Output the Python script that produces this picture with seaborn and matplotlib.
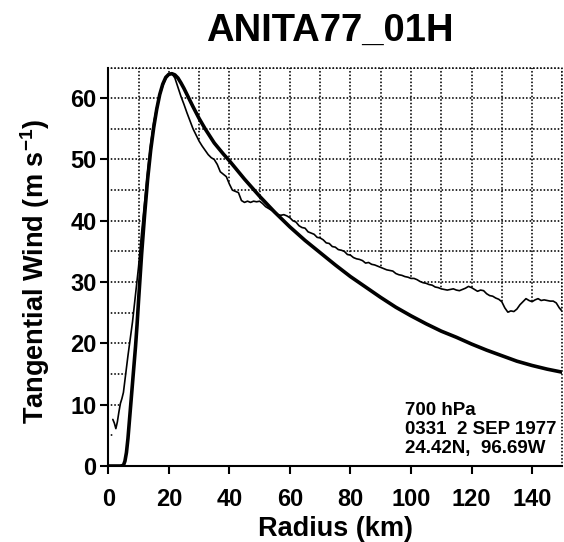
import numpy as np
import pandas as pd
import matplotlib
matplotlib.use("Agg")
import matplotlib.pyplot as plt
from matplotlib.ticker import MultipleLocator
import seaborn as sns

# ── DATA ─────────────────────────────────────
TITLE = "ANITA77_01H"
X_LABEL = "Radius (km)"
Y_LABEL = r"Tangential Wind (m s$^{\mathbf{-1}}$)"
INFO = "700 hPa\n0331  2 SEP 1977\n24.42N,  96.69W"

# fitted profile (thick line)
model_r = [0, 2, 4, 5, 5.5, 6, 6.5, 7, 7.5, 8, 8.5, 9, 9.5, 10, 11, 12, 13, 14,
           15, 16, 17, 18, 19, 20, 21, 22, 23, 24, 25, 26, 28, 30, 32, 35, 38,
           40, 45, 50, 55, 60, 65, 70, 75, 80, 85, 90, 95, 100, 105, 110, 115,
           120, 125, 130, 135, 140, 145, 150]
model_v = [0, 0, 0, 0.1, 0.8, 2.2, 4.5, 7.5, 10.5, 13.5, 16.5, 19.5, 23, 27,
           34.5, 41, 46.8, 51.5, 55.2, 58.2, 60.6, 62.3, 63.4, 63.9, 64, 63.8,
           63.3, 62.5, 61.6, 60.6, 58.6, 56.7, 55, 52.7, 50.9, 49.8, 46.8, 44,
           41.4, 39.0, 36.8, 34.8, 32.8, 30.9, 29.2, 27.5, 25.9, 24.5, 23.2,
           22, 21, 19.9, 18.9, 18, 17.1, 16.4, 15.8, 15.3]

# observed flight-level profile (thin line)
obs_r = [1.5, 2, 2.5, 3, 3.5, 4, 4.5, 5, 5.5, 6, 6.5, 7, 7.5,
         8, 9, 10, 11, 12, 13, 14, 15, 16, 17, 18, 19, 20, 21, 22, 23, 24, 25,
         26, 27, 28, 29, 30, 31, 32, 33, 34, 35, 36, 37, 38, 39, 40, 41, 42,
         43, 44, 45, 46, 47, 48, 49, 50, 51, 52, 53, 54, 55, 56, 57, 58, 59,
         60, 61, 62, 63, 64, 65, 66, 67, 68, 69, 70, 71, 72, 73, 74, 75, 76,
         77, 78, 79, 80, 81, 82, 83, 84, 85, 86, 87, 88, 89, 90, 91, 92, 93,
         94, 95, 96, 97, 98, 99, 100, 101, 102, 103, 104, 105, 106, 107, 108,
         109, 110, 111, 112, 113, 114, 115, 116, 117, 118, 119, 120, 121, 122,
         123, 124, 125, 126, 127, 128, 129, 130, 131, 132, 133, 134, 135, 136,
         137, 138, 139, 140, 141, 142, 143, 144, 145, 146, 147, 148, 149, 150]
obs_v = [7.6, 7.0, 6.1, 7.2, 8.8, 10.2, 11, 12, 14, 16, 18, 19.8, 21.5,
         23.5, 28, 32.5, 38, 43, 48, 52.5, 56, 58.5, 60.5, 62, 63.2, 63.8, 64,
         63.3, 61.8, 60.3, 59, 57.6, 56.3, 55, 54, 53, 52.2, 51.5, 50.8, 50.3,
         50, 49.2, 48, 47.6, 47.2, 46, 45, 44.8, 44.6, 43.3, 43, 43.2, 43,
         43.2, 43.1, 43.2, 42.8, 42.3, 42, 41.7, 41.3, 41, 40.9, 41, 40.8,
         40.5, 40, 39.8, 39.2, 38.9, 38.8, 38.2, 38, 37.8, 37.3, 37.2, 36.9,
         36.4, 36.3, 35.8, 35.7, 35.3, 35.2, 35, 34.5, 34.4, 34.0, 33.8, 33.7,
         33.5, 33.1, 33.2, 32.9, 32.8, 32.6, 32.4, 32.2, 32, 31.9, 31.8, 31.4,
         31.2, 31.1, 30.9, 30.8, 30.6, 30.6, 30.4, 30.1, 29.9, 29.8, 29.6,
         29.5, 29.2, 29.1, 28.9, 28.8, 28.7, 28.8, 28.9, 28.7, 28.6, 28.8, 29,
         29.3, 29.1, 28.8, 28.5, 28.7, 28.6, 28.1, 27.8, 27.7, 27.4, 27.2,
         26.8, 25.8, 25.1, 25.3, 25.2, 25.6, 26.3, 26.8, 27.3, 27.0, 26.8,
         27.1, 27.3, 27.0, 27.1, 27.0, 26.9, 26.9, 26.6, 25.8, 25.2]

X_MAX, Y_MAX = 150, 65

# ── STYLE ────────────────────────────────────
sns.set_theme(style="white")
plt.rcParams["font.family"] = ["Liberation Sans", "DejaVu Sans"]
plt.rcParams["font.weight"] = "bold"
plt.rcParams["mathtext.fontset"] = "custom"
plt.rcParams["mathtext.rm"] = "Liberation Sans:bold"
plt.rcParams["mathtext.bf"] = "Liberation Sans:bold"
for key in ["text.color", "axes.labelcolor", "xtick.color", "ytick.color"]:
    plt.rcParams[key] = "black"

GRID_KW = dict(color="#111111", linestyle=(0, (0.01, 1.8)), linewidth=1.4,
               dash_capstyle="round")

fig = plt.figure(figsize=(5.64, 5.42), dpi=100, facecolor="white")
ax = fig.add_axes([0.192, 0.1402, 0.805, 0.7352])

# ── DATA LINES ───────────────────────────────
obs = pd.DataFrame({"r": obs_r, "v": obs_v})
model = pd.DataFrame({"r": model_r, "v": model_v})

# area under the observed profile hides the grid
ax.fill_between(obs["r"], 0, obs["v"], color="white", lw=0, zorder=1)

sns.lineplot(data=obs, x="r", y="v", ax=ax, color="black", linewidth=1.2,
             sort=False, estimator=None, zorder=3)
sns.lineplot(data=model, x="r", y="v", ax=ax, color="black", linewidth=2.6,
             sort=False, estimator=None, zorder=4)

# ── AXES ─────────────────────────────────────
ax.set_xlim(0, X_MAX)
ax.set_ylim(0, Y_MAX)
ax.xaxis.set_major_locator(MultipleLocator(20))
ax.xaxis.set_minor_locator(MultipleLocator(10))
ax.yaxis.set_major_locator(MultipleLocator(10))
ax.yaxis.set_minor_locator(MultipleLocator(5))

ax.set_axisbelow(True)
ax.grid(which="both", **GRID_KW)
ax.axvline(X_MAX, zorder=5, clip_on=False, **GRID_KW)
ax.axhline(Y_MAX, zorder=5, clip_on=False, **GRID_KW)

for side in ["top", "right"]:
    ax.spines[side].set_visible(False)
for side in ["left", "bottom"]:
    ax.spines[side].set_linewidth(1.5)
    ax.spines[side].set_color("black")
    ax.spines[side].set_zorder(6)

ax.tick_params(axis="x", which="major", direction="out", length=5.5,
               width=1.5, color="black", pad=10, labelsize=17, bottom=True)
ax.tick_params(axis="y", which="major", direction="out", length=6,
               width=1.5, color="black", pad=2.5, labelsize=17, left=True)
ax.tick_params(which="minor", length=0)

ax.set_xlabel(X_LABEL, fontsize=19.5, fontweight="bold", labelpad=4)
ax.set_ylabel(Y_LABEL, fontsize=19.5, fontweight="bold")
ax.yaxis.set_label_coords(-0.125, 0.489)

ax.text(98.1, 2.1, INFO, fontsize=13.5, fontweight="bold", ha="left",
        va="baseline", linespacing=1.15, zorder=7)

fig.text(330 / 564, 1 - 41 / 542, TITLE, fontsize=27.5, fontweight="bold",
         ha="center", va="baseline")

plt.savefig("out.png", dpi=100, facecolor="white")
plt.close()
